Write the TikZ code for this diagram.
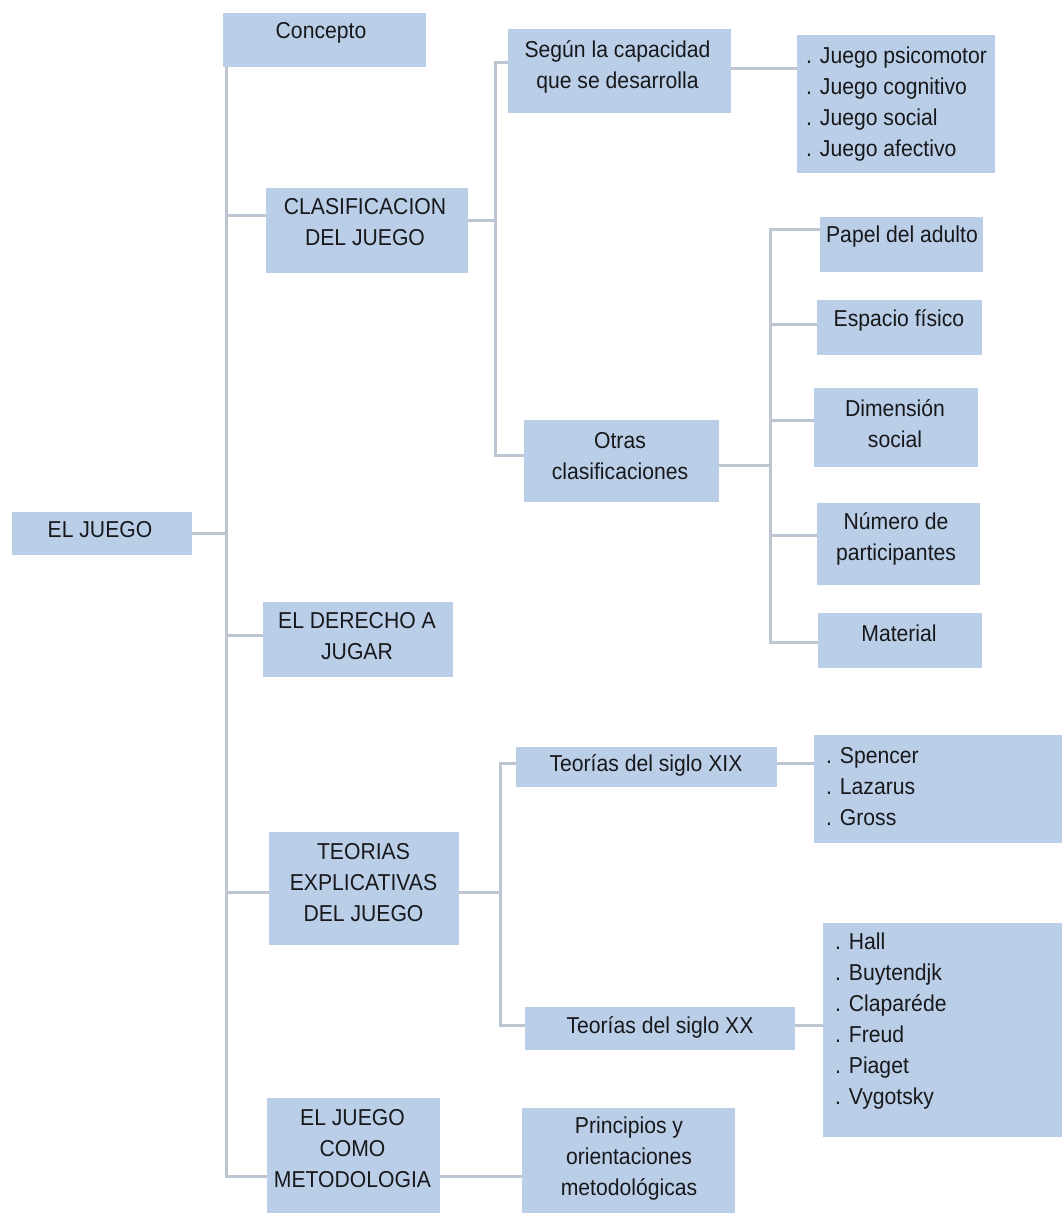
\documentclass[tikz,border=0pt]{standalone}
\usepackage{fontspec}
\setmainfont{Liberation Sans}[FakeStretch=0.92]
\definecolor{boxblue}{RGB}{186,207,231}
\definecolor{linec}{RGB}{188,198,211}
\definecolor{textc}{RGB}{24,24,28}
\begin{document}
\begin{tikzpicture}[x=1pt,y=-1pt,
  box/.style={fill=boxblue, draw=none, inner sep=0pt},
  txt/.style={font=\fontsize{23}{31}\selectfont, text=textc, align=center, inner sep=0pt},
  lst/.style={txt, align=left, anchor=west},
  conn/.style={draw=linec, line width=3pt}]
\useasboundingbox (0,0) rectangle (1064,1218);
% boxes
\node[box, minimum width=180pt, minimum height=43pt] (juego) at (102,533.5) {};
\node[box, minimum width=203pt, minimum height=54pt] (concepto) at (324.5,40) {};
\node[box, minimum width=202pt, minimum height=85pt] (clasif) at (367,230.5) {};
\node[box, minimum width=190pt, minimum height=75pt] (derecho) at (358,639.5) {};
\node[box, minimum width=190pt, minimum height=113pt] (teorias) at (364,888.5) {};
\node[box, minimum width=173pt, minimum height=115pt] (metod) at (353.5,1155.5) {};
\node[box, minimum width=223pt, minimum height=84pt] (segun) at (619.5,71) {};
\node[box, minimum width=198pt, minimum height=138pt] (jlist) at (896,104) {};
\node[box, minimum width=195pt, minimum height=82pt] (otras) at (621.5,461) {};
\node[box, minimum width=163pt, minimum height=55pt] (papel) at (901.5,244.5) {};
\node[box, minimum width=165pt, minimum height=55pt] (espacio) at (899.5,327.5) {};
\node[box, minimum width=164pt, minimum height=79pt] (dimension) at (896,427.5) {};
\node[box, minimum width=163pt, minimum height=82pt] (numero) at (898.5,544) {};
\node[box, minimum width=164pt, minimum height=55pt] (material) at (900,640.5) {};
\node[box, minimum width=261pt, minimum height=40pt] (xix) at (646.5,767) {};
\node[box, minimum width=270pt, minimum height=43pt] (xx) at (660,1028.5) {};
\node[box, minimum width=248pt, minimum height=108pt] (spencer) at (938,789) {};
\node[box, minimum width=239pt, minimum height=214pt] (hall) at (942.5,1030) {};
\node[box, minimum width=213pt, minimum height=105pt] (princ) at (628.5,1160.5) {};
% texts
\node[txt] (juego-t) at (100,530) {EL JUEGO};
\node[txt] (concepto-t) at (321,33) {Concepto};
\node[txt] (clasif-t) at (365,222.5) {CLASIFICACION\\DEL JUEGO};
\node[txt] (derecho-t) at (357,636) {EL DERECHO A\\JUGAR};
\node[txt] (teorias-t) at (363.5,882.5) {TEORIAS\\EXPLICATIVAS\\DEL JUEGO};
\node[txt] (metod-t) at (352.5,1149) {EL JUEGO\\COMO\\METODOLOGIA};
\node[txt] (segun-t) at (617.5,66.5) {Según la capacidad\\que se desarrolla};
\node[lst] (jlist-t) at (806,104.5) {. Juego psicomotor\\. Juego cognitivo\\. Juego social\\. Juego afectivo};
\node[txt] (otras-t) at (620,456.5) {Otras\\clasificaciones};
\node[txt] (papel-t) at (902,237) {Papel del adulto};
\node[txt] (espacio-t) at (899,320) {Espacio físico};
\node[txt] (dimension-t) at (895,424) {Dimensión\\social};
\node[txt] (numero-t) at (896,538.5) {Número de\\participantes};
\node[txt] (material-t) at (899,633) {Material};
\node[txt] (xix-t) at (646,765) {Teorías del siglo XIX};
\node[txt] (xx-t) at (660,1027) {Teorías del siglo XX};
\node[lst] (spencer-t) at (826,787) {. Spencer\\. Lazarus\\. Gross};
\node[lst] (hall-t) at (835,1021) {. Hall\\. Buytendjk\\. Claparéde\\. Freud\\. Piaget\\. Vygotsky};
\node[txt] (princ-t) at (629,1159) {Principios y\\orientaciones\\metodológicas};
% junction coordinates
\coordinate (tTop) at (226,67);
\coordinate (tBot) at (226,1176);
\coordinate (tC) at (226,215);
\coordinate (tD) at (226,635);
\coordinate (tT) at (226,892);
\coordinate (k1) at (495,220);
\coordinate (kTop) at (495,62);
\coordinate (kBot) at (495,455);
\coordinate (s1) at (760,68);
\coordinate (o1) at (770,465);
\coordinate (oTop) at (770,229);
\coordinate (oBot) at (770,642);
\coordinate (o2) at (770,324);
\coordinate (o3) at (770,420);
\coordinate (o4) at (770,535);
\coordinate (p1) at (500,892);
\coordinate (pTop) at (500,763);
\coordinate (pBot) at (500,1025);
\coordinate (q1) at (800,763);
\coordinate (q2) at (800,1025);
% connectors
\draw[conn] (tTop) -- (tBot) -- (tBot -| metod.west);
\draw[conn] (juego.east) -- (juego.east -| tTop);
\draw[conn] (tC) -- (tC -| clasif.west);
\draw[conn] (tD) -- (tD -| derecho.west);
\draw[conn] (tT) -- (tT -| teorias.west);
\draw[conn] (k1 -| clasif.east) -- (k1);
\draw[conn] (kTop -| segun.west) -- (kTop) -- (kBot) -- (kBot -| otras.west);
\draw[conn] (s1 -| segun.east) -- (s1 -| jlist.west);
\draw[conn] (o1 -| otras.east) -- (o1);
\draw[conn] (oTop -| papel.west) -- (oTop) -- (oBot) -- (oBot -| material.west);
\draw[conn] (o2) -- (o2 -| espacio.west);
\draw[conn] (o3) -- (o3 -| dimension.west);
\draw[conn] (o4) -- (o4 -| numero.west);
\draw[conn] (p1 -| teorias.east) -- (p1);
\draw[conn] (pTop -| xix.west) -- (pTop) -- (pBot) -- (pBot -| xx.west);
\draw[conn] (q1 -| xix.east) -- (q1 -| spencer.west);
\draw[conn] (q2 -| xx.east) -- (q2 -| hall.west);
\draw[conn] (tBot -| metod.east) -- (tBot -| princ.west);
\end{tikzpicture}
\end{document}
